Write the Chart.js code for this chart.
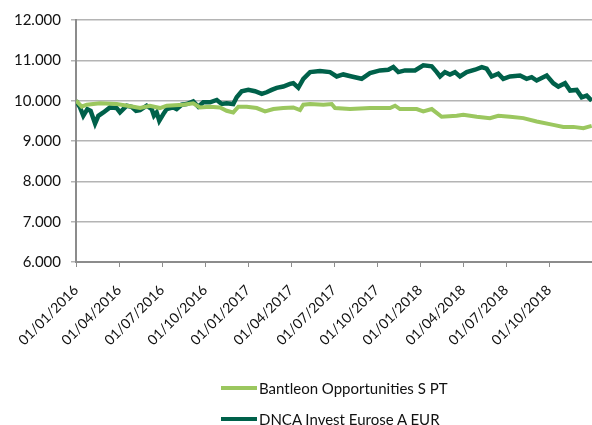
<!DOCTYPE html>
<html>
<head>
<meta charset="utf-8">
<script src="https://cdn.jsdelivr.net/npm/chart.js@4"></script>
<style>
  html, body { margin: 0; padding: 0; background: #fff; }
  #wrap { position: relative; width: 592px; height: 425px; overflow: hidden; }
  #myChart { position: absolute; left: 0; top: 0; }
  #legend { position: absolute; left: 221px; top: 372px; font-family: Lato, sans-serif; font-size: 15px; color: #111; }
  .item { display: flex; align-items: center; height: 31px; }
  .swatch { width: 36px; height: 4px; margin-right: 2px; }
</style>
</head>
<body>
<div id="wrap">
  <canvas id="myChart" width="592" height="425"></canvas>
  <div id="legend"></div>
</div>
<script>
// months since 01/01/2016 and fund values
let bantMonths = [0, 0.40, 0.75, 1.67, 2.84, 4.00, 4.47, 5.16, 5.86, 6.33, 7.49, 8.18, 8.65, 9.35, 10.05, 10.51, 10.97, 11.33, 11.91, 12.61, 13.19, 13.77, 14.46, 15.16, 15.63, 15.86, 16.33, 17.26, 17.84, 18.07, 19.12, 20.51, 21.91, 22.26, 22.60, 23.77, 24.23, 24.82, 25.51, 26.56, 27.02, 27.96, 28.88, 29.46, 30.28, 31.21, 32.14, 33.30, 34.00, 34.70, 35.40, 35.98];
let bantValues = [10000, 9850, 9900, 9933, 9917, 9850, 9817, 9875, 9817, 9875, 9900, 9933, 9833, 9850, 9833, 9750, 9708, 9850, 9850, 9817, 9733, 9792, 9817, 9833, 9767, 9900, 9917, 9900, 9917, 9817, 9792, 9817, 9817, 9875, 9792, 9792, 9733, 9792, 9600, 9625, 9650, 9600, 9567, 9625, 9600, 9567, 9483, 9400, 9350, 9350, 9317, 9375];

let dncaMonths = [0, 0.28, 0.51, 0.79, 1.02, 1.33, 1.56, 1.91, 2.37, 2.84, 3.07, 3.54, 3.88, 4.19, 4.47, 4.93, 5.28, 5.44, 5.63, 5.81, 6.09, 6.33, 6.79, 7.02, 7.37, 7.72, 8.18, 8.53, 8.88, 9.35, 9.82, 10.16, 10.51, 10.97, 11.21, 11.56, 12.02, 12.49, 12.96, 13.30, 13.65, 14.00, 14.46, 14.93, 15.16, 15.51, 15.86, 16.33, 17.02, 17.72, 18.19, 18.65, 19.23, 19.93, 20.51, 21.21, 21.79, 22.14, 22.49, 22.95, 23.65, 24.23, 24.82, 25.17, 25.40, 25.74, 26.09, 26.44, 26.79, 27.26, 27.84, 28.31, 28.65, 29.00, 29.46, 29.81, 30.28, 30.98, 31.44, 31.79, 32.14, 32.84, 33.30, 33.65, 34.12, 34.47, 34.93, 35.28, 35.63, 35.98];
let dncaValues = [10000, 9833, 9625, 9790, 9750, 9433, 9625, 9708, 9833, 9817, 9708, 9875, 9850, 9750, 9767, 9875, 9792, 9625, 9708, 9500, 9667, 9792, 9833, 9792, 9900, 9917, 9983, 9850, 9958, 9958, 10017, 9917, 9933, 9917, 10083, 10233, 10267, 10233, 10167, 10208, 10267, 10317, 10350, 10417, 10433, 10320, 10542, 10708, 10733, 10708, 10600, 10650, 10600, 10542, 10683, 10750, 10767, 10833, 10708, 10750, 10750, 10875, 10850, 10708, 10600, 10708, 10650, 10708, 10600, 10708, 10767, 10833, 10792, 10600, 10667, 10542, 10600, 10625, 10542, 10583, 10500, 10625, 10433, 10350, 10433, 10250, 10267, 10083, 10125, 10000];

let xTickLabels = ['01/01/2016', '01/04/2016', '01/07/2016', '01/10/2016', '01/01/2017', '01/04/2017', '01/07/2017', '01/10/2017', '01/01/2018', '01/04/2018', '01/07/2018', '01/10/2018'];
let yTickLabels = ['6.000', '7.000', '8.000', '9.000', '10.000', '11.000', '12.000'];

let seriesNames = ['Bantleon Opportunities S PT', 'DNCA Invest Eurose A EUR'];
let seriesColors = ['#9bc75f', '#00614a'];

function toPoints(xs, ys) {
    let pts = [];
    for (let i = 0; i < xs.length; i++) {
        pts.push({ x: xs[i], y: ys[i] });
    }
    return pts;
}

const ctx = document.getElementById('myChart').getContext('2d');
const myChart = new Chart(ctx, {
    type: 'line',
    data: {
        datasets: [{
            label: seriesNames[0],
            data: toPoints(bantMonths, bantValues),
            borderColor: seriesColors[0],
            borderWidth: 4,
            pointRadius: 0,
            tension: 0
        }, {
            label: seriesNames[1],
            data: toPoints(dncaMonths, dncaValues),
            borderColor: seriesColors[1],
            borderWidth: 4.5,
            pointRadius: 0,
            tension: 0
        }]
    },
    options: {
        responsive: false,
        animation: false,
        layout: { padding: { top: 20, right: 0, left: 0, bottom: 0 } },
        plugins: {
            legend: { display: false },
            tooltip: { enabled: false }
        },
        scales: {
            x: {
                type: 'linear',
                min: 0,
                max: 36,
                grid: { drawOnChartArea: false, drawTicks: true, tickLength: 5, color: '#8c8c8c' },
                border: { color: '#8c8c8c', width: 2 },
                ticks: {
                    stepSize: 3,
                    autoSkip: false,
                    maxRotation: 45,
                    minRotation: 45,
                    padding: 15,
                    color: '#111',
                    font: { family: 'Lato', size: 14 },
                    callback: function (value) {
                        let label = xTickLabels[value / 3];
                        return label === undefined ? '' : label;
                    }
                },
                afterFit: function (scale) {
                    scale.height = 163;
                    scale.paddingRight = 0;
                }
            },
            y: {
                min: 6000,
                max: 12000,
                grid: { color: '#b4b4b4', lineWidth: 1.5, tickLength: 5 },
                border: { color: '#8c8c8c', width: 2 },
                ticks: {
                    stepSize: 1000,
                    padding: 10,
                    color: '#111',
                    font: { family: 'Lato', size: 15 },
                    callback: function (value) {
                        return yTickLabels[(value - 6000) / 1000];
                    }
                },
                afterFit: function (scale) { scale.width = 76; }
            }
        }
    }
});

let legend = document.getElementById('legend');
for (let i = 0; i < seriesNames.length; i++) {
    let row = document.createElement('div');
    row.className = 'item';
    let sw = document.createElement('span');
    sw.className = 'swatch';
    sw.style.background = seriesColors[i];
    let txt = document.createElement('span');
    txt.textContent = seriesNames[i];
    row.appendChild(sw);
    row.appendChild(txt);
    legend.appendChild(row);
}
</script>
</body>
</html>
